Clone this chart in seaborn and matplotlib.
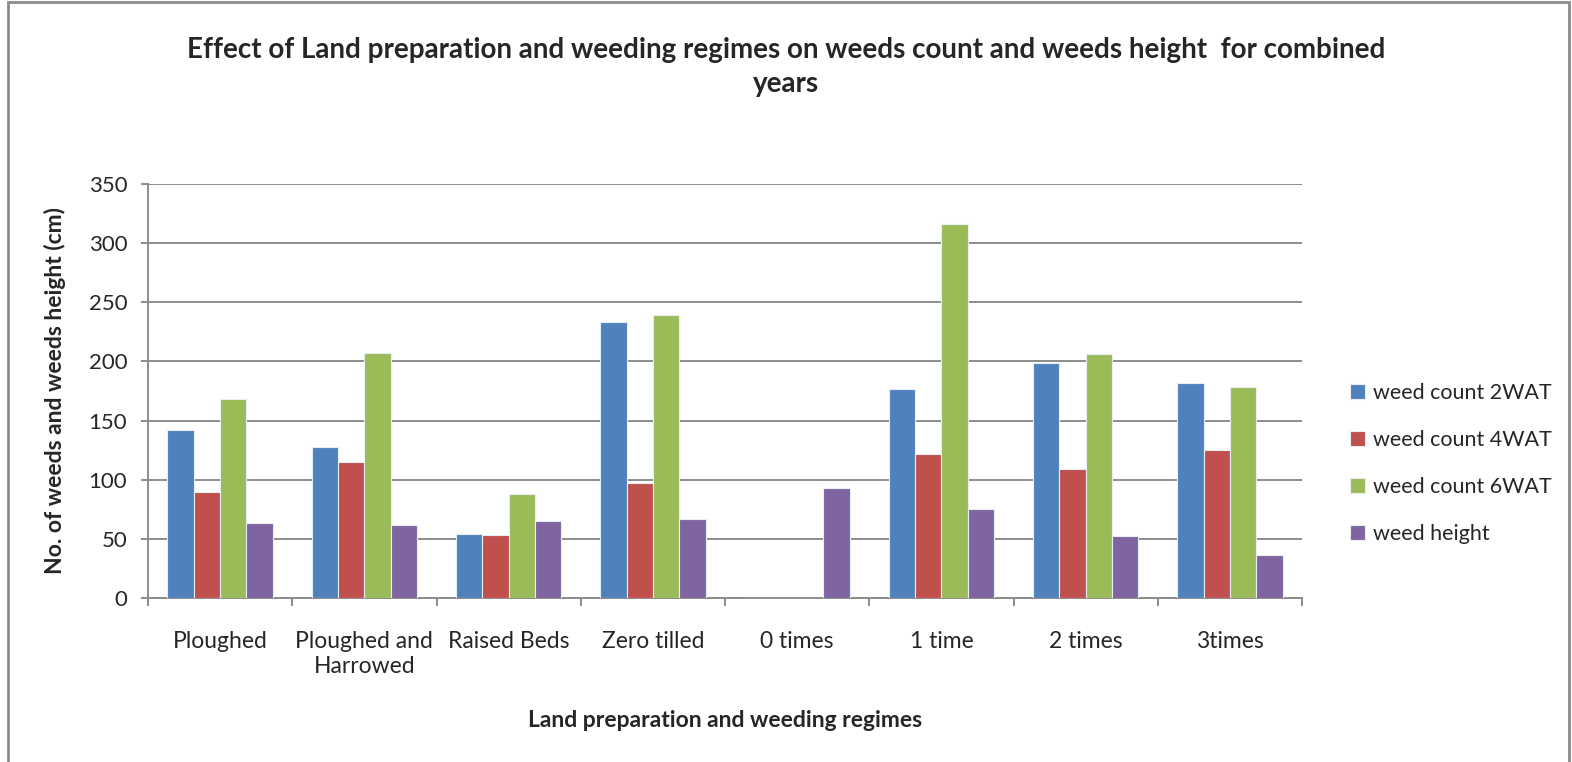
import numpy as np
import pandas as pd
import matplotlib
matplotlib.use("Agg")
import matplotlib.pyplot as plt
from matplotlib.patches import Rectangle
import seaborn as sns

categories = ["Ploughed", "Ploughed and\nHarrowed", "Raised Beds", "Zero tilled",
              "0 times", "1 time", "2 times", "3times"]
weed_count_2wat = [142, 128, 54, 233, 0, 177, 199, 182]
weed_count_4wat = [90, 115, 53, 97, 0, 122, 109, 125]
weed_count_6wat = [168, 207, 88, 239, 0, 316, 206, 178]
weed_height = [63, 62, 65, 67, 93, 75, 52, 36]

series = {
    "weed count 2WAT": weed_count_2wat,
    "weed count 4WAT": weed_count_4wat,
    "weed count 6WAT": weed_count_6wat,
    "weed height": weed_height,
}
colors = ["#4F81BD", "#C0504D", "#9BBB59", "#8064A2"]

df = pd.DataFrame(
    [(c, s, v) for s, vals in series.items() for c, v in zip(categories, vals)],
    columns=["Category", "Series", "Value"],
)

sns.set_style("white")
plt.rcParams["font.family"] = ["Lato", "DejaVu Sans"]

fig = plt.figure(figsize=(15.72, 7.62), dpi=100)
ax = fig.add_axes([148 / 1572, 1 - 598 / 762, (1302 - 148) / 1572, (598 - 184) / 762])

sns.barplot(data=df, x="Category", y="Value", hue="Series", palette=colors,
            saturation=1, width=0.73, ax=ax, edgecolor="#e8eef6", linewidth=0.8, zorder=3)

ax.set_ylim(0, 350)
ax.set_xlim(-0.5, len(categories) - 0.5)
ax.set_yticks(np.arange(0, 351, 50))
ax.yaxis.grid(True, color="#8c8c8c", linewidth=1.4, zorder=0)
ax.set_axisbelow(True)

for side in ["top", "right"]:
    ax.spines[side].set_visible(False)
for side in ["left", "bottom"]:
    ax.spines[side].set_color("#8c8c8c")
    ax.spines[side].set_linewidth(1.4)

ax.tick_params(axis="y", which="major", length=5, width=1.4, color="#8c8c8c",
               labelsize=16, pad=10, left=True)
ax.tick_params(axis="x", which="major", length=0, labelsize=16.5, pad=24)
ax.set_xticks(np.arange(-0.5, len(categories), 1), minor=True)
ax.tick_params(axis="x", which="minor", length=6, width=1.4, color="#8c8c8c", bottom=True)

ax.set_xlabel("Land preparation and weeding regimes", fontsize=16.5, fontweight="bold", labelpad=24)
ax.set_ylabel("No. of weeds and weeds height (cm)", fontsize=16.5, fontweight="bold", labelpad=16)

ax.legend(loc="center left", bbox_to_anchor=(1.025, 0.325), frameon=False, fontsize=15.5,
          handlelength=0.7, handleheight=0.7, labelspacing=1.25, handletextpad=0.35)

fig.text(0.5, 0.912, "Effect of Land preparation and weeding regimes on weeds count and weeds height  for combined\nyears",
         ha="center", va="center", fontsize=20, fontweight="bold", linespacing=1.36)

fig.patches.append(Rectangle((0.005, -0.01), 0.993, 1.007, transform=fig.transFigure,
                             fill=False, edgecolor="#8c8c8c", linewidth=2))

fig.savefig("out.png", dpi=100)
plt.close()
